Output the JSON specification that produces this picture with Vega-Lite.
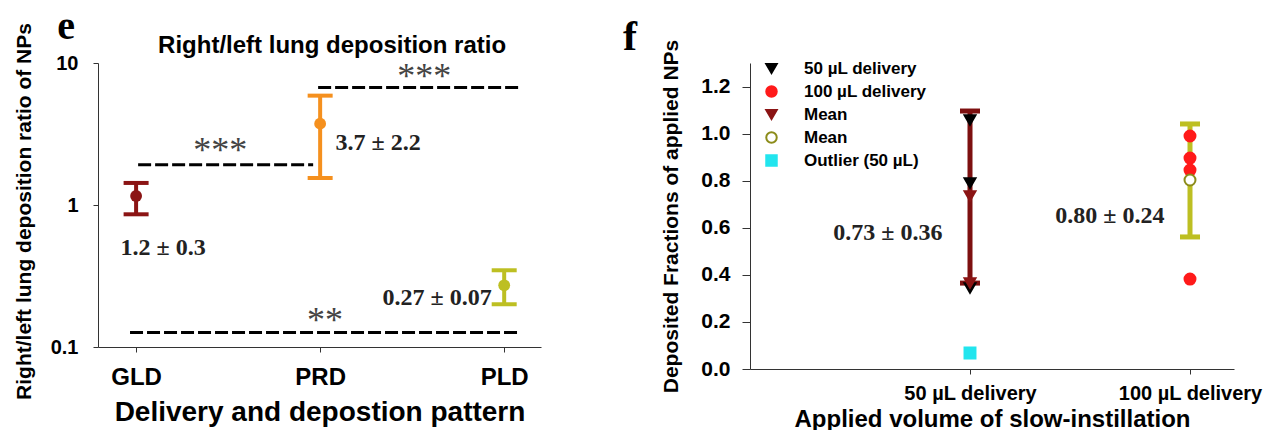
{
  "$schema": "https://vega.github.io/schema/vega-lite/v6.json",
  "background": "white",
  "padding": {"left": 13, "top": 6, "right": 5, "bottom": 2},
  "bounds": "flush",
  "spacing": 209,
  "resolve": {"scale": {"color": "independent", "fill": "independent", "stroke": "independent", "shape": "independent"}, "legend": {"shape": "independent", "fill": "independent", "stroke": "independent"}},
  "config": {
    "view": {"stroke": null},
    "font": "Liberation Sans",
    "axis": {"labelColor": "black", "titleColor": "black", "domainColor": "#333", "tickColor": "#333", "grid": false, "labelFontWeight": "bold", "titleFontWeight": "bold", "labelFont": "Liberation Sans", "titleFont": "Liberation Sans"}
  },
  "hconcat": [
    {
      "width": 443,
      "height": 284,
      "layer": [
        {
          "data": {"values": [
            {"x": 0.011, "x2": 0.962, "y": 1.92},
            {"x": 0.989, "x2": 2.087, "y": 6.71},
            {"x": -0.033, "x2": 2.08, "y": 0.1266}
          ]},
          "mark": {"type": "rule", "strokeDash": [13, 4], "strokeWidth": 3, "color": "black"},
          "encoding": {
            "x": {"field": "x", "type": "quantitative", "scale": {"domain": [-0.207, 2.2], "nice": false, "zero": false},
              "axis": {"values": [0, 1, 2], "labelExpr": "datum.value == 0 ? 'GLD' : datum.value == 1 ? 'PRD' : 'PLD'", "title": "Delivery and depostion pattern", "labelFontSize": 24, "titleFontSize": 28, "tickSize": 5, "labelPadding": 13, "titlePadding": 9}},
            "x2": {"field": "x2"},
            "y": {"field": "y", "type": "quantitative", "scale": {"type": "log", "domain": [0.1, 10], "nice": false},
              "axis": {"values": [0.1, 1, 10], "format": "~g", "title": "Right/left lung deposition ratio of NPs", "labelFontSize": 20, "titleFontSize": 21, "tickSize": 5, "labelPadding": 15, "titlePadding": 16, "titleY": 148}}
          }
        },
        {
          "data": {"values": [
            {"pat": "GLD", "x": 0, "mean": 1.158, "lo": 0.86, "hi": 1.43},
            {"pat": "PRD", "x": 1, "mean": 3.74, "lo": 1.55, "hi": 5.89},
            {"pat": "PLD", "x": 2, "mean": 0.272, "lo": 0.2, "hi": 0.347}
          ]},
          "encoding": {
            "x": {"field": "x", "type": "quantitative"},
            "color": {"field": "pat", "type": "nominal", "scale": {"domain": ["GLD", "PRD", "PLD"], "range": ["#8b1414", "#f5901e", "#bdbf22"]}, "legend": null}
          },
          "layer": [
            {"mark": {"type": "rule", "strokeWidth": 4}, "encoding": {"y": {"field": "lo", "type": "quantitative"}, "y2": {"field": "hi"}}},
            {"mark": {"type": "tick", "orient": "horizontal", "size": 25, "thickness": 4, "opacity": 1}, "encoding": {"y": {"field": "lo", "type": "quantitative"}}},
            {"mark": {"type": "tick", "orient": "horizontal", "size": 25, "thickness": 4, "opacity": 1}, "encoding": {"y": {"field": "hi", "type": "quantitative"}}},
            {"mark": {"type": "point", "filled": true, "size": 140, "opacity": 1}, "encoding": {"y": {"field": "mean", "type": "quantitative"}}}
          ]
        },
        {
          "data": {"values": [
            {"x": 0.457, "y": 2.74, "t": "***"},
            {"x": 1.565, "y": 9.1, "t": "***"},
            {"x": 1.027, "y": 0.1725, "t": "**"}
          ]},
          "mark": {"type": "text", "font": "Liberation Serif", "fontSize": 36, "color": "#444", "baseline": "middle", "dy": 8},
          "encoding": {"x": {"field": "x", "type": "quantitative"}, "y": {"field": "y", "type": "quantitative"}, "text": {"field": "t"}}
        },
        {
          "data": {"values": [
            {"x": 1.315, "y": 2.74, "t": "3.7 ± 2.2"},
            {"x": 0.147, "y": 0.497, "t": "1.2 ± 0.3"},
            {"x": 1.636, "y": 0.22, "t": "0.27 ± 0.07"}
          ]},
          "mark": {"type": "text", "font": "Liberation Serif", "fontSize": 24, "fontWeight": "bold", "color": "#222", "baseline": "middle", "align": "center"},
          "encoding": {"x": {"field": "x", "type": "quantitative"}, "y": {"field": "y", "type": "quantitative"}, "text": {"field": "t"}}
        },
        {
          "data": {"values": [{"x": 1.065, "y": 13.1, "t": "Right/left lung deposition ratio"}]},
          "mark": {"type": "text", "font": "Liberation Sans", "fontSize": 24, "fontWeight": "bold", "color": "black", "baseline": "middle"},
          "encoding": {"x": {"field": "x", "type": "quantitative"}, "y": {"field": "y", "type": "quantitative"}, "text": {"field": "t"}}
        },
        {
          "data": {"values": [{"x": -0.38, "y": 18.0, "t": "e"}]},
          "mark": {"type": "text", "font": "Liberation Serif", "fontSize": 40, "fontWeight": "bold", "color": "black", "baseline": "middle"},
          "encoding": {"x": {"field": "x", "type": "quantitative"}, "y": {"field": "y", "type": "quantitative"}, "text": {"field": "t"}}
        }
      ]
    },
    {
      "width": 484,
      "height": 306,
      "layer": [
        {
          "data": {"values": [
            {"x": 1, "lo": 0.365, "hi": 1.096, "c": "m50"},
            {"x": 2, "lo": 0.561, "hi": 1.041, "c": "m100"}
          ]},
          "encoding": {
            "x": {"field": "x", "type": "quantitative", "scale": {"domain": [0, 2.2], "nice": false},
              "axis": {"values": [1, 2], "labelExpr": "datum.value == 1 ? '50 µL delivery' : '100 µL delivery'", "title": "Applied volume of slow-instillation", "labelFontSize": 20, "titleFontSize": 24, "tickSize": 5, "labelPadding": 9, "titlePadding": 4}},
            "color": {"field": "c", "type": "nominal", "scale": {"domain": ["m50", "m100"], "range": ["#7d1010", "#bdbf22"]}, "legend": null}
          },
          "layer": [
            {"mark": {"type": "rule", "strokeWidth": 5}, "encoding": {"y": {"field": "lo", "type": "quantitative", "scale": {"domain": [0, 1.3], "nice": false},
              "axis": {"values": [0, 0.2, 0.4, 0.6, 0.8, 1.0, 1.2], "format": ".1f", "title": "Deposited Fractions of applied NPs", "labelFontSize": 21, "titleFontSize": 21, "tickSize": 8, "labelPadding": 12, "titlePadding": 19}}, "y2": {"field": "hi"}}},
            {"mark": {"type": "tick", "orient": "horizontal", "size": 20, "thickness": 5, "opacity": 1}, "encoding": {"y": {"field": "lo", "type": "quantitative"}}},
            {"mark": {"type": "tick", "orient": "horizontal", "size": 20, "thickness": 5, "opacity": 1}, "encoding": {"y": {"field": "hi", "type": "quantitative"}}}
          ]
        },
        {
          "data": {"values": [
            {"x": 1, "y": 1.058, "g": "50 µL delivery"},
            {"x": 1, "y": 0.79, "g": "50 µL delivery"},
            {"x": 1, "y": 0.344, "g": "50 µL delivery"},
            {"x": 2, "y": 0.99, "g": "100 µL delivery"},
            {"x": 2, "y": 0.896, "g": "100 µL delivery"},
            {"x": 2, "y": 0.845, "g": "100 µL delivery"},
            {"x": 2, "y": 0.382, "g": "100 µL delivery"},
            {"x": 1, "y": 0.735, "g": "Mean 50"},
            {"x": 1, "y": 0.365, "g": "Mean 50"},
            {"x": 2, "y": 0.803, "g": "Mean 100"},
            {"x": 1, "y": 0.068, "g": "Outlier (50 µL)"}
          ]},
          "mark": {"type": "point", "size": 120, "strokeWidth": 2, "opacity": 1, "fillOpacity": 1},
          "encoding": {
            "x": {"field": "x", "type": "quantitative"},
            "y": {"field": "y", "type": "quantitative"},
            "shape": {"field": "g", "type": "nominal", "scale": {"domain": ["50 µL delivery", "100 µL delivery", "Mean 50", "Mean 100", "Outlier (50 µL)"], "range": ["triangle-down", "circle", "triangle-down", "circle", "square"]},
              "legend": {"title": null, "orient": "none", "legendX": 13, "legendY": -3, "labelExpr": "indexof(datum.label, 'Mean') == 0 ? 'Mean' : datum.label", "labelFontSize": 17, "labelFontWeight": "bold", "labelColor": "black", "labelFont": "Liberation Sans", "rowPadding": 4, "symbolSize": 110, "labelOffset": 24, "symbolStrokeWidth": 2}},
            "fill": {"field": "g", "type": "nominal", "scale": {"domain": ["50 µL delivery", "100 µL delivery", "Mean 50", "Mean 100", "Outlier (50 µL)"], "range": ["#000000", "#ff1a1a", "#8b1414", "#ffffff", "#22e5ee"]},
              "legend": {"title": null, "orient": "none", "legendX": 13, "legendY": -3, "labelExpr": "indexof(datum.label, 'Mean') == 0 ? 'Mean' : datum.label", "labelFontSize": 17, "labelFontWeight": "bold", "labelColor": "black", "labelFont": "Liberation Sans", "rowPadding": 4, "symbolSize": 110, "labelOffset": 24, "symbolStrokeWidth": 2}},
            "stroke": {"field": "g", "type": "nominal", "scale": {"domain": ["50 µL delivery", "100 µL delivery", "Mean 50", "Mean 100", "Outlier (50 µL)"], "range": ["#000000", "#ff1a1a", "#8b1414", "#8c8c1a", "#22e5ee"]},
              "legend": {"title": null, "orient": "none", "legendX": 13, "legendY": -3, "labelExpr": "indexof(datum.label, 'Mean') == 0 ? 'Mean' : datum.label", "labelFontSize": 17, "labelFontWeight": "bold", "labelColor": "black", "labelFont": "Liberation Sans", "rowPadding": 4, "symbolSize": 110, "labelOffset": 24, "symbolStrokeWidth": 2}}
          }
        },
        {
          "data": {"values": [
            {"x": 0.627, "y": 0.578, "t": "0.73 ± 0.36"},
            {"x": 1.636, "y": 0.65, "t": "0.80 ± 0.24"}
          ]},
          "mark": {"type": "text", "font": "Liberation Serif", "fontSize": 24, "fontWeight": "bold", "color": "#222", "baseline": "middle"},
          "encoding": {"x": {"field": "x", "type": "quantitative"}, "y": {"field": "y", "type": "quantitative"}, "text": {"field": "t"}}
        },
        {
          "data": {"values": [{"x": -0.545, "y": 1.41, "t": "f"}]},
          "mark": {"type": "text", "font": "Liberation Serif", "fontSize": 42, "fontWeight": "bold", "color": "black", "baseline": "middle"},
          "encoding": {"x": {"field": "x", "type": "quantitative"}, "y": {"field": "y", "type": "quantitative"}, "text": {"field": "t"}}
        }
      ]
    }
  ]
}
